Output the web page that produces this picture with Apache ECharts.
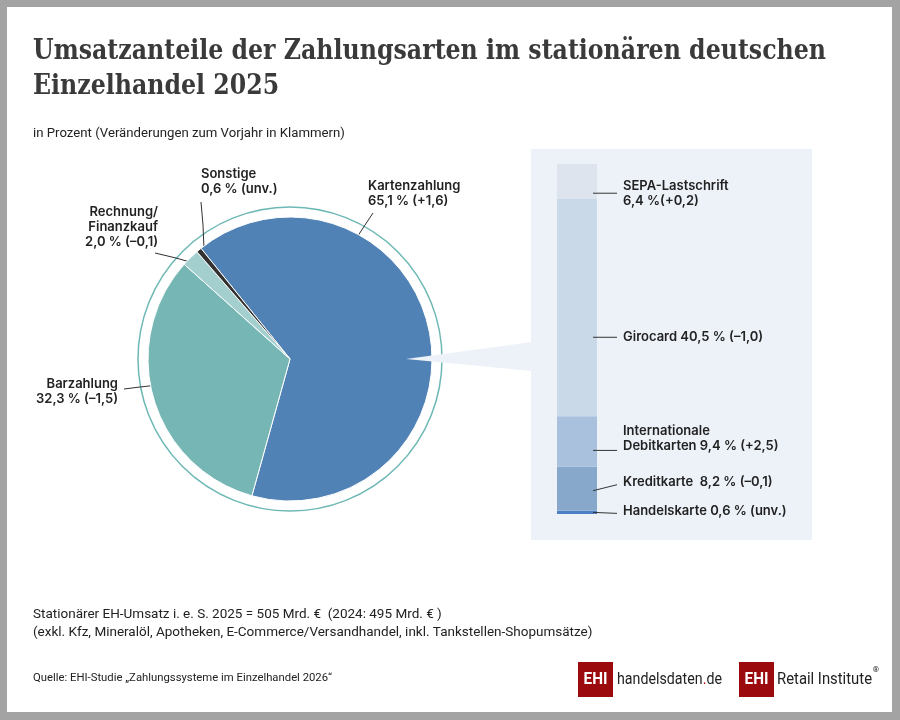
<!DOCTYPE html>
<html>
<head>
<meta charset="utf-8">
<script src="https://cdn.jsdelivr.net/npm/echarts@6/dist/echarts.min.js"></script>
<style>
html,body{margin:0;padding:0;background:#a3a3a3;}
#c{width:900px;height:720px;}
</style>
</head>
<body>
<div id="c"></div>
<script>
// ---- data ----
var pieNames = ['Kartenzahlung', 'Barzahlung', 'Rechnung/Finanzkauf', 'Sonstige'];
var pieValues = [65.1, 32.3, 2.0, 0.6];
var pieLabels = [
  'Kartenzahlung\n65,1 % (+1,6)',
  'Barzahlung\n32,3 % (–1,5)',
  'Rechnung/\nFinanzkauf\n2,0 % (–0,1)',
  'Sonstige\n0,6 % (unv.)'
];
var barNames = ['SEPA-Lastschrift', 'Girocard', 'Internationale Debitkarten', 'Kreditkarte', 'Handelskarte'];
var barValues = [6.4, 40.5, 9.4, 8.2, 0.6];
var barLabels = [
  'SEPA-Lastschrift\n6,4 %(+0,2)',
  'Girocard 40,5 % (–1,0)',
  'Internationale\nDebitkarten 9,4 % (+2,5)',
  'Kreditkarte  8,2 % (–0,1)',
  'Handelskarte 0,6 % (unv.)'
];
var titleLines = ['Umsatzanteile der Zahlungsarten im stationären deutschen', 'Einzelhandel 2025'];
var subtitleText = 'in Prozent (Veränderungen zum Vorjahr in Klammern)';
var footerText = 'Stationärer EH-Umsatz i. e. S. 2025 = 505 Mrd. €  (2024: 495 Mrd. € )\n(exkl. Kfz, Mineralöl, Apotheken, E-Commerce/Versandhandel, inkl. Tankstellen-Shopumsätze)';
var sourceText = 'Quelle: EHI-Studie „Zahlungssysteme im Einzelhandel 2026“';

// ---- styles / layout ----
var pieColors = ['#5182b5', '#76b7b6', '#a3d0ce', '#333333'];
var barColors = ['#dde4ee', '#c9d9e8', '#a9c1dc', '#87a7cb', '#4d7fc4'];
var PC = [290, 359], PR = 142, RING = 152;
var lblFont = 'Inter';
var lblWeight = 600;
var lblSize = 13;
var titleFont = 'bold 27px "DejaVu Serif"';
var logoFont = '17px Roboto';
var pieLabelPos = [
  {x: 368, y: 178.5, align: 'left', line: [[354, 242], [363, 228], [373, 213]]},
  {x: 118, y: 376.5, align: 'right', line: [[124, 389], [140, 387], [158, 385]]},
  {x: 158, y: 204.5, align: 'right', line: [[155, 253], [176, 258], [197, 264]]},
  {x: 201, y: 166.5, align: 'left', line: [[201, 202], [203, 225], [204, 249]]}
];
var barLabelOff = [[12, 12, 12.5], [30, 30, 30], [9, 9, -3], [2, -4, -7], [0, 1, -1.5]];

var measureCtx = document.createElement('canvas').getContext('2d');
function fitScale(text, font, target) {
  measureCtx.font = font;
  return target / measureCtx.measureText(text).width;
}

var cum = [];
(function () {
  var acc = 0;
  for (var i = barValues.length - 1; i >= 0; i--) {
    cum[i] = [acc, acc + barValues[i]];
    acc += barValues[i];
  }
})();
var total = barValues.reduce(function (a, b) { return a + b; }, 0);

var chart = echarts.init(document.getElementById('c'), null, {renderer: 'canvas'});

function build() {
  var barSeries = [];
  for (var i = barValues.length - 1; i >= 0; i--) {
    barSeries.push({
      type: 'bar', name: barNames[i], stack: 'k', data: [barValues[i]],
      barWidth: '100%', itemStyle: {color: barColors[i]}, z: 5, silent: true
    });
  }
  var wedgeTop = 342, wedgeBot = 371, panel = {x: 531, y: 149, w: 281, h: 391};
  var tScale = fitScale(titleLines[0], titleFont, 793);
  var hScale = fitScale('handelsdaten.de', logoFont, 105);
  var rScale = fitScale('Retail Institute', logoFont, 95);

  chart.setOption({
    backgroundColor: '#a3a3a3',
    animation: false,
    title: [
      {text: subtitleText, left: 33, top: 126.5, padding: 0,
       textStyle: {fontFamily: 'Roboto', fontWeight: 'normal', fontSize: 13.2, lineHeight: 15, color: '#222'}},
      {text: footerText, left: 33, top: 606, padding: 0,
       textStyle: {fontFamily: 'Roboto', fontWeight: 'normal', fontSize: 13.5, lineHeight: 18, color: '#222'}},
      {text: sourceText, left: 33, top: 671.5, padding: 0,
       textStyle: {fontFamily: 'Roboto', fontWeight: 'normal', fontSize: 11.3, lineHeight: 14, color: '#222'}}
    ],
    graphic: [
      {type: 'rect', shape: {x: 7, y: 7, width: 885, height: 705}, style: {fill: '#ffffff'}, z: -10, silent: true},
      {type: 'text', x: 33, y: 51.5, scaleX: tScale, z: 10, silent: true,
       style: {text: titleLines[0], font: titleFont, fill: '#3a3a3a', verticalAlign: 'middle'}},
      {type: 'text', x: 33, y: 86.5, scaleX: tScale, z: 10, silent: true,
       style: {text: titleLines[1], font: titleFont, fill: '#3a3a3a', verticalAlign: 'middle'}},
      {type: 'rect', shape: {x: panel.x, y: panel.y, width: panel.w, height: panel.h}, style: {fill: '#edf2f9'}, z: 0, silent: true},
      {type: 'circle', shape: {cx: PC[0], cy: PC[1], r: RING}, style: {fill: 'none', stroke: '#6db8b5', lineWidth: 1.5}, z: 0, silent: true},
      {type: 'polygon', shape: {points: [[PC[0] + 116, PC[1]], [panel.x + 1, wedgeTop], [panel.x + 1, wedgeBot]]}, style: {fill: '#edf2f9'}, z: 100, silent: true},
      // logos
      {type: 'rect', shape: {x: 578, y: 662, width: 35, height: 35}, style: {fill: '#9b0b0d'}, z: 10},
      {type: 'text', x: 595.5, y: 680, scaleX: 0.9, style: {text: 'EHI', fill: '#fff', font: 'bold 17px Roboto', align: 'center', verticalAlign: 'middle'}, z: 11},
      {type: 'text', x: 617, y: 680, scaleX: hScale, style: {text: 'handelsdaten{r|.}de', rich: {r: {fill: '#c00000', font: logoFont}}, fill: '#222', font: logoFont, verticalAlign: 'middle'}, z: 11},
      {type: 'rect', shape: {x: 739, y: 662, width: 35, height: 35}, style: {fill: '#9b0b0d'}, z: 10},
      {type: 'text', x: 756.5, y: 680, scaleX: 0.9, style: {text: 'EHI', fill: '#fff', font: 'bold 17px Roboto', align: 'center', verticalAlign: 'middle'}, z: 11},
      {type: 'text', x: 777, y: 680, scaleX: rScale, style: {text: 'Retail Institute', fill: '#222', font: logoFont, verticalAlign: 'middle'}, z: 11},
      {type: 'text', x: 876, y: 670, style: {text: '®', fill: '#222', font: '8px Roboto', align: 'center', verticalAlign: 'middle'}, z: 11}
    ],
    grid: {left: 557, top: 164, width: 40, height: 350},
    xAxis: {type: 'category', data: ['Kartenzahlung'], show: false},
    yAxis: {type: 'value', min: 0, max: total, show: false},
    series: [
      {
        type: 'pie', center: PC, radius: [0, PR], startAngle: 128.8, clockwise: true,
        avoidLabelOverlap: false, silent: true, z: 3,
        itemStyle: {borderColor: '#ffffff', borderWidth: 1},
        data: pieValues.map(function (v, i) {
          return {name: pieNames[i], value: v, itemStyle: {color: pieColors[i]}};
        }),
        label: {
          show: true, position: 'outside',
          formatter: function (p) { return pieLabels[p.dataIndex]; },
          fontFamily: lblFont, fontWeight: lblWeight, fontSize: lblSize, lineHeight: 15, color: '#222'
        },
        labelLine: {show: true, length: 5, length2: 5, lineStyle: {color: '#333', width: 1}},
        labelLayout: function (p) {
          var c = pieLabelPos[p.dataIndex];
          return {x: c.x, y: c.y, align: c.align, verticalAlign: 'top',
                  labelLinePoints: c.line.map(function (q) { return q.slice(); })};
        }
      }
    ].concat(barSeries).concat([
      {
        type: 'custom', z: 6, silent: true,
        data: barValues.map(function (v, i) { return [0, cum[i][0], cum[i][1]]; }),
        encode: {x: 0, y: [1, 2]},
        renderItem: function (params, api) {
          var i = params.dataIndex;
          var lo = api.coord([api.value(0), api.value(1)]);
          var hi = api.coord([api.value(0), api.value(2)]);
          var half = api.size([1, 0])[0] / 2;
          var mid = (lo[1] + hi[1]) / 2;
          var cx = lo[0];
          var o = barLabelOff[i];
          return {
            type: 'group',
            children: [
              {type: 'line', shape: {x1: cx + half - 4, y1: mid + o[0], x2: cx + half + 20, y2: mid + o[1]},
               style: {stroke: '#333', lineWidth: 1}},
              {type: 'text', style: {x: cx + half + 26, y: mid + o[2], text: barLabels[i], fill: '#222',
               font: lblWeight + ' ' + lblSize + 'px ' + lblFont, lineHeight: 15, verticalAlign: 'middle', align: 'left'}}
            ]
          };
        }
      }
    ])
  });
}
build();
if (document.fonts && document.fonts.ready) { document.fonts.ready.then(build); }
</script>
</body>
</html>
